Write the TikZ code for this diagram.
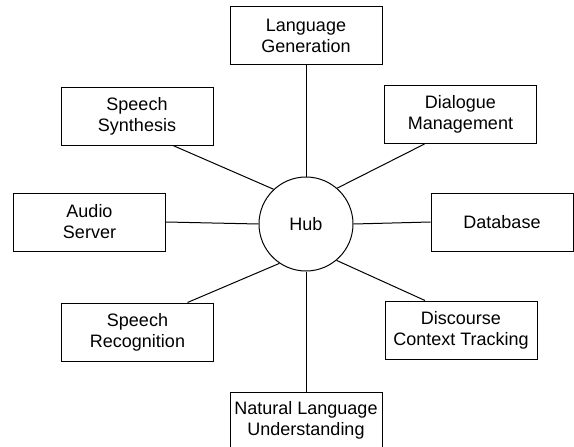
\documentclass[tikz,border=0pt]{standalone}
\usepackage{fontspec}
\setmainfont{Liberation Sans}
\begin{document}
\begin{tikzpicture}[x=1pt,y=-1pt,
    module/.style={draw, line width=1pt, inner sep=2pt, minimum width=152pt,
      minimum height=58pt, align=center, font=\fontsize{18}{21}\selectfont},
    link/.style={line width=1pt}]
    \useasboundingbox (0,0) rectangle (574,447);
    \node[draw, circle, line width=1pt, minimum size=94pt,
      font=\fontsize{18}{21}\selectfont] (hub) at (306,224) {Hub};
    \node[module] (langgen) at (306,35.5) {Language\\Generation};
    \node[module] (synth) at (137,116) {Speech\\Synthesis};
    \node[module] (dialogue) at (460.5,114.5) {Dialogue\\Management};
    \node[module] (audio) at (89.5,222) {Audio\\Server};
    \node[module, minimum width=142pt] (database) at (502,222) {Database};
    \node[module] (recog) at (137.5,332) {Speech\\Recognition};
    \node[module] (discourse) at (461,330) {Discourse\\Context Tracking};
    \node[module, minimum height=56pt] (nlu) at (306,420) {Natural Language\\Understanding};
    \draw[link] (langgen.south) -- (hub.north);
    \draw[link] ([xshift=36pt]synth.south) -- (hub.133);
    \draw[link] ([xshift=-36pt]dialogue.south) -- (hub.49);
    \draw[link] (audio.east) -- (hub.west);
    \draw[link] (hub.east) -- (database.west);
    \draw[link] ([xshift=50pt]recog.north) -- (hub.236);
    \draw[link] ([xshift=-36pt]discourse.north) -- (hub.310);
    \draw[link] (hub.south) -- (nlu.north);
\end{tikzpicture}
\end{document}
